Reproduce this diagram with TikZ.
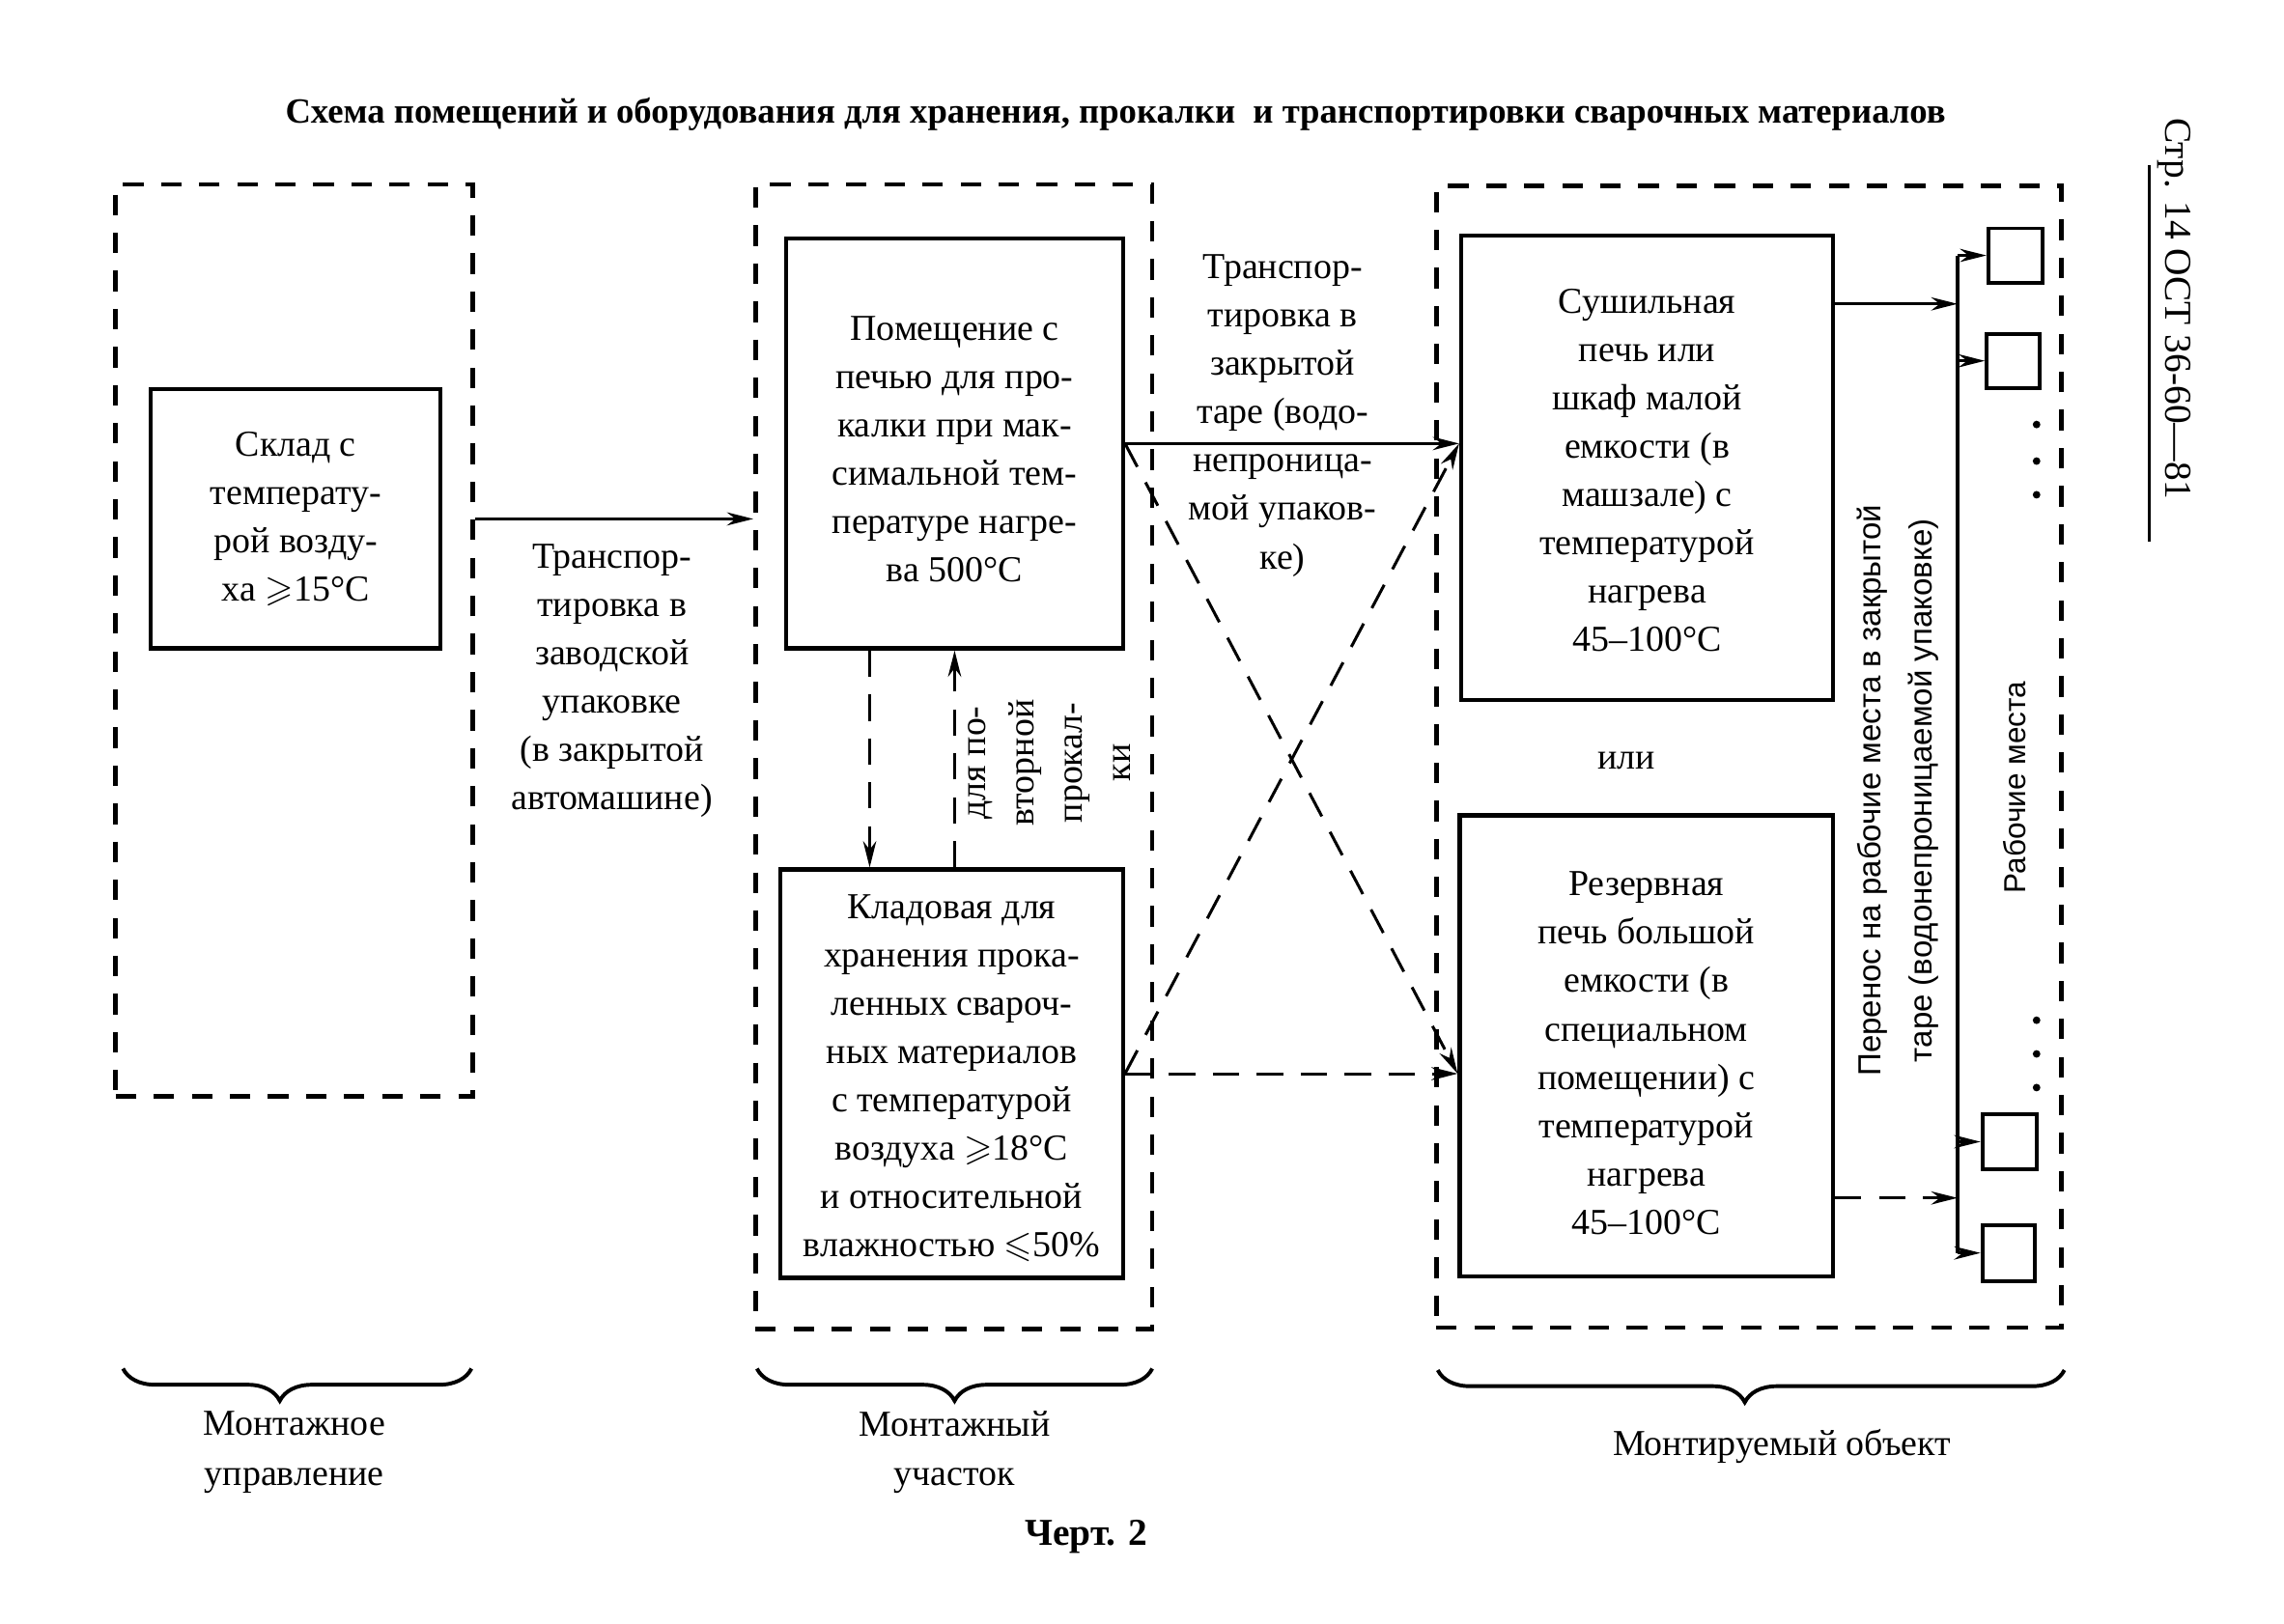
\documentclass[tikz,border=0pt]{standalone}
\usepackage{fontspec}
\usepackage{amssymb}
\setmainfont{Liberation Serif}
\newfontfamily\sansf{Liberation Sans}
\usetikzlibrary{arrows.meta,fit,calc,decorations.pathreplacing}
\begin{document}
\begin{tikzpicture}[x=0.5pt,y=-0.5pt,
  txt/.style={font=\fontsize{12.5}{16.5}\selectfont, align=center, inner sep=0},
  box/.style={draw, line width=1.4pt, inner sep=0},
  grp/.style={draw, line width=1.5pt, dash pattern=on 7pt off 6pt, inner sep=0},
  conn/.style={line width=1pt, -{Stealth[length=9pt,width=4.5pt]}},
  dconn/.style={conn, dash pattern=on 9pt off 6pt},
  wp/.style={draw, line width=1.3pt, inner sep=0},
  brc/.style={decorate, line width=1.3pt, decoration={brace, mirror, amplitude=11pt}},
  lbl/.style={font=\fontsize{12.5}{17}\selectfont, align=center, inner sep=0},
  ]
\useasboundingbox (0,0) rectangle (1560,1109);

% title
\node[font=\bfseries\fontsize{12.1}{15}\selectfont, inner sep=0] (title) at (762,78)
  {Схема помещений и оборудования для хранения, прокалки \ и транспортировки сварочных материалов};
% page note
\node[rotate=-90, font=\fontsize{13}{15}\selectfont, inner sep=0] (page) at (1485,211) {Стр. 14 ОСТ 36-60—81};
\coordinate (pl1) at (1468,113);
\coordinate (pl2) at (1468,370);
\draw[line width=1.2pt] (pl1) -- (pl2);

% group boxes
\node[grp, fit={(79,126)(323,749)}] (gL) {};
\node[grp, fit={(516,126)(787,908)}] (gM) {};
\node[grp, fit={(981,127)(1408,907)}] (gR) {};

% rooms
\node[box, fit={(103,266)(301,443)}] (sklad) {};
\node[txt] (skladT) at ($(sklad.center)+(0,0)$) {Склад с\\температу-\\рой возду-\\ха $\geqslant$15°C};
\node[box, fit={(537,163)(767,443)}] (pom) {};
\node[txt] (pomT) at ($(pom.center)+(0,4)$) {Помещение с\\печью для про-\\калки при мак-\\симальной тем-\\пературе нагре-\\ва 500°C};
\node[box, fit={(533,594)(767,873)}] (klad) {};
\node[txt] (kladT) at ($(klad.center)+(0,3)$) {Кладовая для\\хранения прока-\\ленных свароч-\\ных материалов\\с температурой\\воздуха $\geqslant$18°C\\и относительной\\влажностью $\leqslant$50\%};
\node[box, fit={(998,161)(1252,478)}] (sush) {};
\node[txt] (sushT) at ($(sush.center)+(0,2)$) {Сушильная\\печь или\\шкаф малой\\емкости (в\\машзале) с\\температурой\\нагрева\\45–100°C};
\node[box, fit={(997,557)(1252,872)}] (rez) {};
\node[txt] (rezT) at ($(rez.center)+(0,5)$) {Резервная\\печь большой\\емкости (в\\специальном\\помещении) с\\температурой\\нагрева\\45–100°C};
\node[txt] (ili) at (1111,520) {или};

% workplaces
\node[wp, fit={(1358,156)(1395,193)}] (w1) {};
\node[wp, fit={(1357,228)(1393,265)}] (w2) {};
\node[wp, fit={(1354,761)(1391,799)}] (w3) {};
\node[wp, fit={(1354,837)(1390,875)}] (w4) {};
\coordinate (bus) at (1337,500);
\draw[line width=1.3pt] (w1.west -| bus) -- (w4.west -| bus);
\foreach \w in {w1,w2,w3,w4} \draw[conn] (\w.west -| bus) -- (\w.west);
\foreach \y in {290,315,338,697,720,743} \fill (1391,\y) circle (2.6);

% connectors
\draw[conn] (gL.east |- sklad.center) -- (gM.west |- sklad.center);
\draw[conn] (pom.east) -- (pom.east -| sush.west);
\draw[dconn] (pom.east) -- (klad.east -| rez.west);
\draw[dconn] (klad.east) -- (pom.east -| sush.west);
\draw[dconn] (klad.east) -- (klad.east -| rez.west);
\coordinate (pd) at ($(pom.south)+(-58,0)$);
\draw[dconn] (pd) -- (pd |- klad.north);
\draw[dconn] (pom.south |- klad.north) -- (pom.south);
\coordinate (se) at ($(sush.north east)+(0,48)$);
\draw[conn] (se) -- (se -| bus);
\coordinate (re) at ($(rez.south east)+(0,-55)$);
\draw[dconn] (re) -- (re -| bus);

% connector labels
\node[txt] (t1) at (418,465) {Транспор-\\тировка в\\заводской\\упаковке\\(в закрытой\\автомашине)};
\node[txt] (t2) at (876,284) {Транспор-\\тировка в\\закрытой\\таре (водо-\\непроница-\\мой упаков-\\ке)};
\node[txt, rotate=90] (t3) at (717,521) {для по-\\вторной\\прокал-\\ки};
\node[rotate=90, align=center, inner sep=0, font=\sansf\fontsize{10.9}{17.5}\selectfont] (t4) at (1296,540)
  {Перенос на рабочие места в закрытой\\таре (водонепроницаемой упаковке)};
\node[rotate=90, inner sep=0, font=\sansf\fontsize{10.4}{15}\selectfont] (t5) at (1376,538) {Рабочие места};

% braces
\draw[brc, decoration={aspect=0.45}] (84,935) -- (322,935);
\draw[brc, decoration={aspect=0.50}] (517,935) -- (787,935);
\draw[brc, decoration={aspect=0.49}] (982,936) -- (1410,936);
\node[lbl] (b1) at (201,992) {Монтажное\\управление};
\node[lbl] (b2) at (652,992) {Монтажный\\участок};
\node[lbl] (b3) at (1217,988) {Монтируемый объект};
\node[font=\bfseries\fontsize{13}{15}\selectfont, inner sep=0] (cap) at (742,1050) {Черт. 2};
\end{tikzpicture}
\end{document}
